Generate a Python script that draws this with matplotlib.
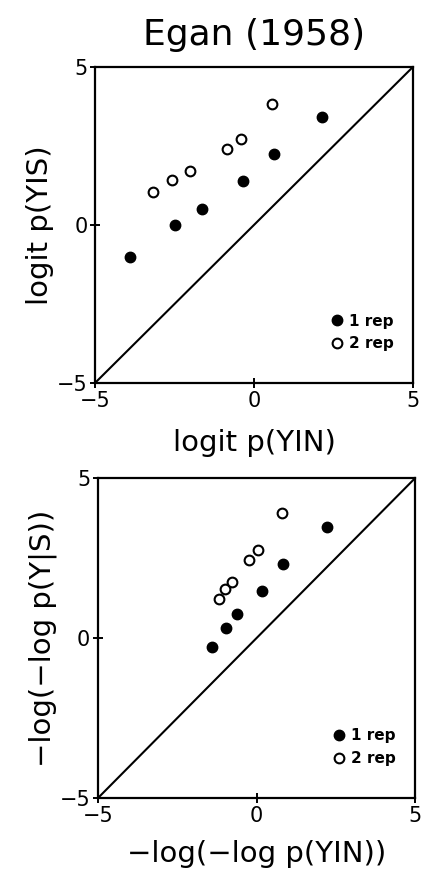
import numpy as np
import matplotlib.pyplot as plt

plt.rcParams['font.family'] = ['DejaVu Sans']

# ---- data: top panel (logit) ----
logit_x_1rep = [-3.90, -2.47, -1.62, -0.34, 0.63, 2.15]
logit_y_1rep = [-1.00, 0.00, 0.50, 1.39, 2.26, 3.42]
logit_x_2rep = [-3.17, -2.58, -2.01, -0.85, -0.40, 0.57]
logit_y_2rep = [1.03, 1.42, 1.72, 2.39, 2.72, 3.84]

# ---- data: bottom panel (-log(-log)) ----
ll_x_1rep = [-1.40, -0.95, -0.61, 0.16, 0.84, 2.21]
ll_y_1rep = [-0.29, 0.31, 0.75, 1.48, 2.31, 3.46]
ll_x_2rep = [-1.19, -0.99, -0.78, -0.23, 0.06, 0.79]
ll_y_2rep = [1.22, 1.53, 1.77, 2.45, 2.76, 3.91]

ticks = [-5, 0, 5]

fig = plt.figure(figsize=(4.21, 8.69), dpi=100)
ax1 = fig.add_axes([0.2257, 0.5593, 0.755, 0.3636])
ax2 = fig.add_axes([0.2328, 0.0817, 0.753, 0.368])


def panel(ax, x1, y1, x2, y2, xlabel, ylabel, xpad):
    ax.plot([-5, 5], [-5, 5], color="black", linewidth=1.5)
    ax.plot(x1, y1, "o", color="black", markersize=7.5, label="1 rep")
    ax.plot(x2, y2, "o", markerfacecolor="white", markeredgecolor="black",
            markeredgewidth=1.5, markersize=7, label="2 rep")
    ax.set_xlim(-5, 5)
    ax.set_ylim(-5, 5)
    ax.set_xticks(ticks)
    ax.set_yticks(ticks)
    for s in ax.spines.values():
        s.set_linewidth(1.6)
    ax.tick_params(direction="inout", length=7, width=1.4, labelsize=15, pad=2)
    ax.set_xlabel(xlabel, fontsize=21, labelpad=xpad)
    ax.set_ylabel(ylabel, fontsize=21, labelpad=2)
    ax.legend(loc="lower right", frameon=False, handletextpad=0.3,
              borderaxespad=0, borderpad=0, labelspacing=0.5, handlelength=1.0,
              prop={"size": 11, "weight": "bold"}, bbox_to_anchor=(0.94, 0.1))


panel(ax1, logit_x_1rep, logit_y_1rep, logit_x_2rep, logit_y_2rep,
      "logit p(YIN)", "logit p(YIS)", 13)
panel(ax2, ll_x_1rep, ll_y_1rep, ll_x_2rep, ll_y_2rep,
      "\u2212log(\u2212log p(YIN))", "\u2212log(\u2212log p(Y|S))", 10)

ax1.set_title("Egan (1958)", fontsize=26, pad=16)

fig.savefig("out.png", dpi=100)
